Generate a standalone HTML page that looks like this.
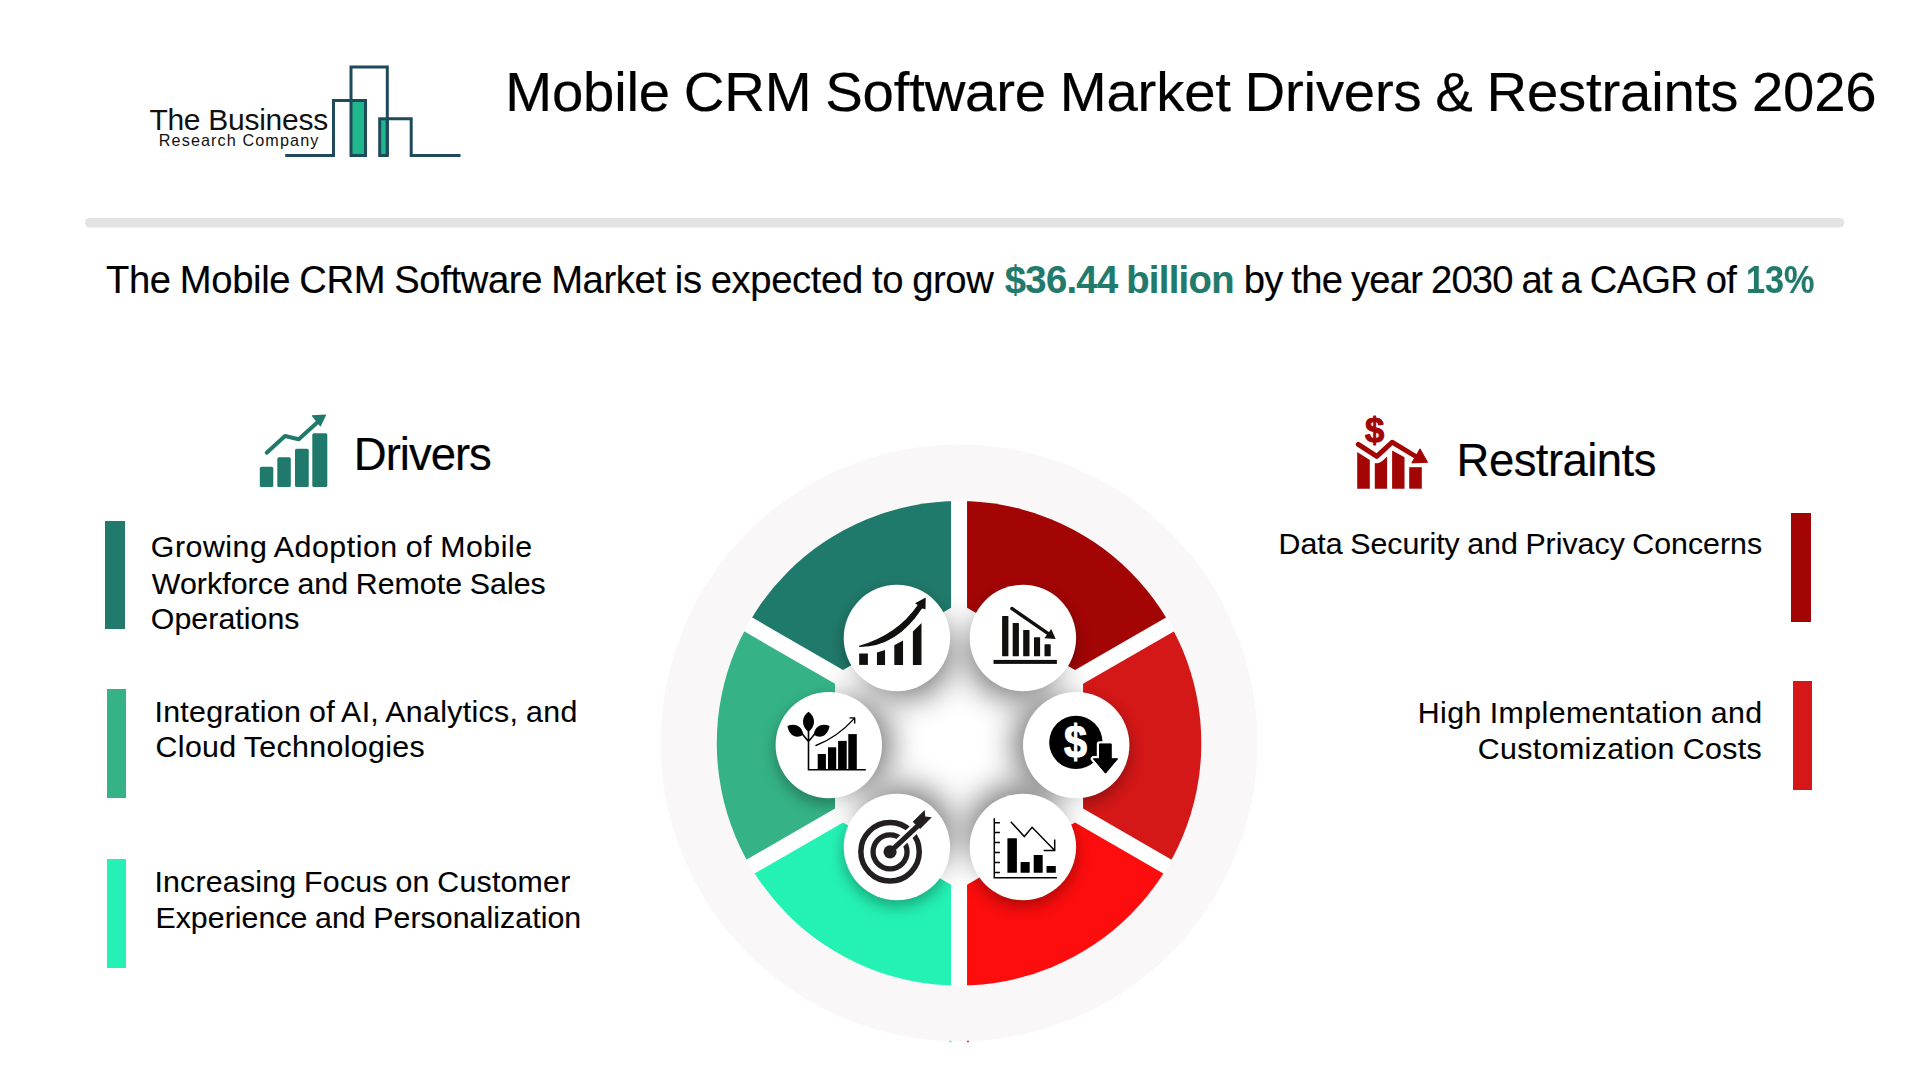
<!DOCTYPE html>
<html lang="en"><head><meta charset="utf-8"><title>Mobile CRM Software Market Drivers &amp; Restraints 2026</title>
<style>
html,body{margin:0;padding:0;background:#fff}
body{width:1920px;height:1080px;position:relative;overflow:hidden;font-family:"Liberation Sans",sans-serif}
.t{position:absolute;white-space:nowrap;line-height:1;margin:0;padding:0;transform-origin:0 50%;-webkit-text-stroke:0.004em currentColor}
svg.g{position:absolute;left:0;top:0}
.bar{position:absolute}
.w{margin:0;padding:0}
</style></head><body>
<svg class="g" width="1920" height="1080" viewBox="0 0 1920 1080">
<defs>
<filter id="sh1" x="600" y="400" width="720" height="700" filterUnits="userSpaceOnUse"><feGaussianBlur stdDeviation="16"/></filter>
<filter id="sh2" x="600" y="400" width="720" height="700" filterUnits="userSpaceOnUse"><feGaussianBlur stdDeviation="8"/></filter>
<clipPath id="wc"><circle cx="959.05" cy="743.3" r="242.3"/></clipPath>
<clipPath id="segclip"><path d="M951.05,607.64 L843.05,669.99 L677.35,574.32 L777.55,431.83 L951.05,416.30 Z"/><path d="M835.05,683.85 L835.05,808.55 L669.35,904.22 L596.05,746.20 L669.35,588.18 Z"/><path d="M843.05,822.41 L951.05,884.76 L951.05,1076.10 L777.55,1060.57 L677.35,918.08 Z"/><path d="M1075.05,669.99 L967.05,607.64 L967.05,416.30 L1140.55,431.83 L1240.75,574.32 Z"/><path d="M1083.05,808.55 L1083.05,683.85 L1248.75,588.18 L1322.05,746.20 L1248.75,904.22 Z"/><path d="M967.05,884.76 L1075.05,822.41 L1240.75,918.08 L1140.55,1060.57 L967.05,1076.10 Z"/></clipPath>
</defs>
<rect x="84.85" y="217.9" width="1759.35" height="9.7" rx="4.85" fill="#e3e3e3"/>
<circle cx="959.05" cy="742.9" r="298.4" fill="#f9f7f7"/>
<circle cx="959.05" cy="743.3" r="242.70000000000002" fill="#fff"/>
<g filter="url(#sh1)" opacity="0.56"><circle cx="906.27" cy="653.83" r="44.0" fill="#000"/><circle cx="1013.34" cy="653.72" r="44.0" fill="#000"/><circle cx="847.20" cy="744.80" r="44.0" fill="#000"/><circle cx="1057.80" cy="744.77" r="44.0" fill="#000"/><circle cx="906.34" cy="831.21" r="44.0" fill="#000"/><circle cx="1013.27" cy="831.32" r="44.0" fill="#000"/></g>
<g clip-path="url(#wc)">
<path d="M951.05,607.64 L843.05,669.99 L677.35,574.32 L777.55,431.83 L951.05,416.30 Z" fill="#207a6b"/>
<path d="M835.05,683.85 L835.05,808.55 L669.35,904.22 L596.05,746.20 L669.35,588.18 Z" fill="#35b387"/>
<path d="M843.05,822.41 L951.05,884.76 L951.05,1076.10 L777.55,1060.57 L677.35,918.08 Z" fill="#24f2b4"/>
<path d="M1075.05,669.99 L967.05,607.64 L967.05,416.30 L1140.55,431.83 L1240.75,574.32 Z" fill="#a30505"/>
<path d="M1083.05,808.55 L1083.05,683.85 L1248.75,588.18 L1322.05,746.20 L1248.75,904.22 Z" fill="#d41717"/>
<path d="M967.05,884.76 L1075.05,822.41 L1240.75,918.08 L1140.55,1060.57 L967.05,1076.10 Z" fill="#fd0d0d"/>
</g>
<g clip-path="url(#wc)"><g clip-path="url(#segclip)"><g filter="url(#sh2)" opacity="0.33"><circle cx="896.9" cy="644.0" r="53.2" fill="#000"/><circle cx="1022.9" cy="644.0" r="53.2" fill="#000"/><circle cx="828.8" cy="751.1" r="53.2" fill="#000"/><circle cx="1076.2" cy="751.1" r="53.2" fill="#000"/><circle cx="896.9" cy="853.0" r="53.2" fill="#000"/><circle cx="1022.9" cy="853.0" r="53.2" fill="#000"/></g></g></g>
<circle cx="896.9" cy="638.0" r="53.2" fill="#fff"/>
<circle cx="1022.9" cy="638.0" r="53.2" fill="#fff"/>
<circle cx="828.8" cy="745.1" r="53.2" fill="#fff"/>
<circle cx="1076.2" cy="745.1" r="53.2" fill="#fff"/>
<circle cx="896.9" cy="847.0" r="53.2" fill="#fff"/>
<circle cx="1022.9" cy="847.0" r="53.2" fill="#fff"/>
<rect x="949.4" y="1040.8" width="2" height="1.4" fill="#24f2b4"/><rect x="966.9" y="1040.8" width="2.1" height="1.4" fill="#fb2222"/>
<!-- logo -->
<g fill="none" stroke="#1e4a5b" stroke-width="3" stroke-linejoin="miter">
<rect x="351" y="100.5" width="14.5" height="55" fill="#1fb88c"/>
<rect x="379.7" y="118.8" width="7.6" height="36.7" fill="#1fb88c"/>
<path d="M285.2,155.5 H333.5 V100.5 H351"/>
<path d="M351,100.5 V67.1 H387.3 V155.5"/>
<path d="M387.3,118.8 H411.2 V155.5 H460.5"/>
</g>
<!-- drivers header icon -->
<g fill="#207a6b">
<rect x="259.8" y="466.8" width="13.5" height="20.3" rx="1.6"/>
<rect x="277.3" y="457.3" width="13.5" height="29.8" rx="1.6"/>
<rect x="295" y="448.75" width="13.75" height="38.35" rx="1.6"/>
<rect x="312.3" y="433.2" width="15" height="53.9" rx="1.6"/>
<path d="M266.7,452.7 L285,436 L298.75,439.2 L317.5,422.2" fill="none" stroke="#207a6b" stroke-width="4" stroke-linecap="round" stroke-linejoin="round"/>
<path d="M312.5,415.8 L325.4,415.2 L320.4,425.8 Z" stroke="#207a6b" stroke-width="1.2" stroke-linejoin="round"/>
</g>
<!-- restraints header icon -->
<g fill="#a30505">
<text x="1364.9" y="442.0" font-family="Liberation Sans, sans-serif" font-weight="700" font-size="34.5" stroke="#a30505" stroke-width="1.1" stroke-linejoin="round">$</text>
<path d="M1357.2,452.1 L1369.8,460.1 V488.7 H1357.2 Z"/>
<path d="M1374.8,463.1 Q1379.5,464.5 1387.1,456.4 V488.7 H1374.8 Z"/>
<path d="M1392.1,450.5 L1404.5,457.2 V488.7 H1392.1 Z"/>
<rect x="1409.2" y="467.2" width="12.6" height="21.5"/>
<path d="M1358.3,444.4 L1376.8,456.4 L1392.1,442.2 L1417.5,457.5" fill="none" stroke="#a30505" stroke-width="4.9" stroke-linecap="round" stroke-linejoin="round"/>
<path d="M1420,448.8 L1427.5,462.3 L1411.8,462.9 Z" stroke="#a30505" stroke-width="1" stroke-linejoin="round"/>
</g>
<!-- TL icon -->
<g fill="#12100e">
<rect x="859.17" y="653.5" width="8.73" height="11.4"/>
<path d="M876.95,652.4 L885.04,649.96 V664.9 H876.95 Z"/>
<path d="M894.3,645.2 L903.04,640.4 V664.9 H894.3 Z"/>
<path d="M912.9,631.4 L921.5,622.9 V664.9 H912.9 Z"/>
<path d="M859.2,645.8 Q897.5,634.6 917.7,605 L915.1,603.2 L925.7,597.6 L925.5,609.3 L922,608.5 Q896.4,647.3 859.2,646.9 Z"/>
</g>
<!-- TR icon -->
<g fill="#12100e">
<rect x="993.5" y="659.9" width="63.4" height="4"/>
<rect x="1002.1" y="616" width="6.3" height="40.3" rx=".5"/>
<rect x="1012.7" y="622.9" width="6.2" height="33.4" rx=".5"/>
<rect x="1023.2" y="630" width="6.3" height="26.3" rx=".5"/>
<rect x="1034" y="637.2" width="6.1" height="19.1" rx=".5"/>
<rect x="1044.5" y="644.2" width="6.2" height="12.1" rx=".5"/>
<path d="M1011.9,608.5 L1050,634.8" fill="none" stroke="#12100e" stroke-width="3.4" stroke-linecap="round"/>
<path d="M1051.25,629 L1055.7,639.1 L1044.3,638.35 Z"/>
</g>
<!-- L icon -->
<g fill="#000" stroke="none">
<path d="M808.5,711.8 C801.5,716.5 800.8,726 808.5,732 C816.2,726 815.5,716.5 808.5,711.8 Z"/>
<path d="M787.4,726 C793.5,723.2 801.5,724.5 803.4,734.6 C796.5,739.5 789.5,736 787.4,726 Z"/>
<path d="M829.6,726 C823.5,723.2 815.5,724.5 813.6,734.6 C820.5,739.5 827.5,736 829.6,726 Z"/>
<path d="M808.5,730 V770 M807.8,769.8 H865.8 M808.5,741.5 L802.5,734.3 M808.5,741.5 L814.5,734.3" fill="none" stroke="#000" stroke-width="1.6"/>
<rect x="817.7" y="754" width="8.2" height="15.8"/>
<rect x="828" y="747.3" width="8.2" height="22.5"/>
<rect x="838.1" y="740.9" width="8.6" height="28.9"/>
<rect x="848.3" y="734.1" width="8.5" height="35.7"/>
<path d="M816,745.5 Q836.65,737.8 854.5,718.4 M850.1,717.9 L854.7,718 L854.7,723.1" fill="none" stroke="#000" stroke-width="1.4" stroke-linecap="round" stroke-linejoin="round"/>
</g>
<!-- R icon -->
<g>
<circle cx="1075.9" cy="742.4" r="26.7" fill="#000"/>
<text transform="translate(1064.0,757.6) scale(0.88,1)" x="0" y="0" font-family="Liberation Sans, sans-serif" font-weight="700" font-size="47" fill="#fff" stroke="#fff" stroke-width="1.2" stroke-linejoin="round">$</text>
<path d="M1099.5,743.9 H1111.2 V758.8 H1117.6 L1105.5,773.2 L1093.4,758.8 H1099.5 Z" fill="#000" stroke="#fff" stroke-width="5.4" stroke-linejoin="round" paint-order="stroke"/>
<path d="M1099.5,743.9 H1111.2 V758.8 H1117.6 L1105.5,773.2 L1093.4,758.8 H1099.5 Z" fill="#000" stroke="#000" stroke-width="1" stroke-linejoin="round"/>
</g>
<!-- BL icon -->
<g fill="none" stroke="#231f20">
<circle cx="890.05" cy="851.8" r="29.2" stroke-width="5.5"/>
<circle cx="890.05" cy="851.8" r="17" stroke-width="5.3"/>
<path d="M895,847.2 L926,818.2" stroke="#fff" stroke-width="10.3"/>
<path d="M890.05,851.8 L921,822.8" stroke-width="5.1"/>
<circle cx="890.05" cy="851.8" r="6.6" fill="#231f20" stroke="none"/>
<path d="M912.7,821.7 L924.7,810 L925.2,816.6 L931.8,817.3 L920.1,829 Z" fill="#231f20" stroke="none"/>
</g>
<!-- BR icon -->
<g fill="#000">
<path d="M994.3,818.2 V878.4 M993.5,877.85 H1056.9 M994.3,822.8 h5.6 M994.3,832.6 h5.6 M994.3,842.5 h5.6 M994.3,852.5 h5.6 M994.3,862.4 h5.6 M994.3,872.5 h5.6" fill="none" stroke="#000" stroke-width="1.5"/>
<rect x="1007.4" y="838.2" width="9.5" height="34.6" rx=".5"/>
<rect x="1020.6" y="861.9" width="9.1" height="10.9" rx=".5"/>
<rect x="1033.7" y="855" width="9" height="17.8" rx=".5"/>
<rect x="1046.5" y="865.9" width="9.3" height="6.9" rx=".5"/>
<path d="M1010.8,821.7 L1024.3,836.5 L1032.1,827.3 L1054.7,850.5 M1054.7,839.5 V850.5 H1043.6" fill="none" stroke="#000" stroke-width="1.5" stroke-linejoin="miter"/>
</g>

</svg>
<div class="bar" style="left:105.4px;top:520.7px;width:19.6px;height:108.5px;background:#217a6b"></div>
<div class="bar" style="left:106.9px;top:689px;width:19.2px;height:108.8px;background:#35b387"></div>
<div class="bar" style="left:106.6px;top:859.2px;width:19.3px;height:108.8px;background:#25f0b5"></div>
<div class="bar" style="left:1791.1px;top:513px;width:19.7px;height:109px;background:#a30505"></div>
<div class="bar" style="left:1792.5px;top:681.3px;width:19.5px;height:108.7px;background:#d61717"></div>
<h1 class="t" id="t0" style="left:505.20px;top:63.74px;font-size:56.3px;font-weight:400;color:#000;letter-spacing:-0.176px;word-spacing:-0.03em">Mobile CRM Software Market Drivers &amp; Restraints 2026</h1>
<p class="w"><span class="t" id="s1" style="left:106.00px;top:260.96px;font-size:38.2px;font-weight:400;color:#000;letter-spacing:-0.362px;word-spacing:-0.03em">The Mobile CRM Software Market is expected to grow </span><span class="t" id="s2" style="left:1004.80px;top:260.96px;font-size:38.2px;font-weight:700;color:#227a6c;letter-spacing:-0.692px;word-spacing:-0.03em">$36.44 billion </span><span class="t" id="s3" style="left:1243.80px;top:260.96px;font-size:38.2px;font-weight:400;color:#000;letter-spacing:-0.750px;word-spacing:-0.03em">by the year 2030 at a CAGR of </span><span class="t" id="s4" style="left:1746.35px;top:260.96px;font-size:38.2px;font-weight:700;color:#227a6c;letter-spacing:0.000px;word-spacing:-0.03em;transform:scaleX(0.8972)">13%</span></p>
<div class="w"><span class="t" id="l1" style="left:149.40px;top:104.55px;font-size:30.0px;font-weight:400;color:#111;letter-spacing:-0.273px;-webkit-text-stroke:0">The Business </span><span class="t" id="l2" style="left:158.80px;top:132.29px;font-size:16.2px;font-weight:400;color:#111;letter-spacing:1.100px;-webkit-text-stroke:0">Research Company</span></div>
<h2 class="t" id="hd" style="left:353.80px;top:431.98px;font-size:45.5px;font-weight:400;color:#000;letter-spacing:-1.000px;word-spacing:-0.03em">Drivers</h2>
<p class="w"><span class="t" id="a1" style="left:150.80px;top:531.90px;font-size:30.3px;font-weight:400;color:#000;letter-spacing:0.540px;word-spacing:-0.03em">Growing Adoption of Mobile </span><span class="t" id="a2" style="left:151.80px;top:568.50px;font-size:30.3px;font-weight:400;color:#000;letter-spacing:0.060px;word-spacing:-0.03em">Workforce and Remote Sales </span><span class="t" id="a3" style="left:150.80px;top:603.75px;font-size:30.3px;font-weight:400;color:#000;letter-spacing:0.056px;word-spacing:-0.03em">Operations</span></p>
<p class="w"><span class="t" id="b1" style="left:154.40px;top:696.50px;font-size:30.3px;font-weight:400;color:#000;letter-spacing:0.328px;word-spacing:-0.03em">Integration of AI, Analytics, and </span><span class="t" id="b2" style="left:155.60px;top:732.30px;font-size:30.3px;font-weight:400;color:#000;letter-spacing:0.353px;word-spacing:-0.03em">Cloud Technologies</span></p>
<p class="w"><span class="t" id="c1" style="left:154.40px;top:866.50px;font-size:30.3px;font-weight:400;color:#000;letter-spacing:0.222px;word-spacing:-0.03em">Increasing Focus on Customer </span><span class="t" id="c2" style="left:155.40px;top:902.70px;font-size:30.3px;font-weight:400;color:#000;letter-spacing:0.052px;word-spacing:-0.03em">Experience and Personalization</span></p>
<h2 class="t" id="hr" style="left:1456.60px;top:437.78px;font-size:45.5px;font-weight:400;color:#000;letter-spacing:-0.556px;word-spacing:-0.03em">Restraints</h2>
<p class="t" id="r1" style="left:1278.60px;top:529.30px;font-size:30.3px;font-weight:400;color:#000;letter-spacing:0.015px;word-spacing:-0.03em">Data Security and Privacy Concerns</p>
<p class="w"><span class="t" id="q1" style="left:1417.80px;top:697.90px;font-size:30.3px;font-weight:400;color:#000;letter-spacing:0.420px;word-spacing:-0.03em">High Implementation and </span><span class="t" id="q2" style="left:1477.80px;top:734.30px;font-size:30.3px;font-weight:400;color:#000;letter-spacing:0.389px;word-spacing:-0.03em">Customization Costs</span></p>
</body></html>
